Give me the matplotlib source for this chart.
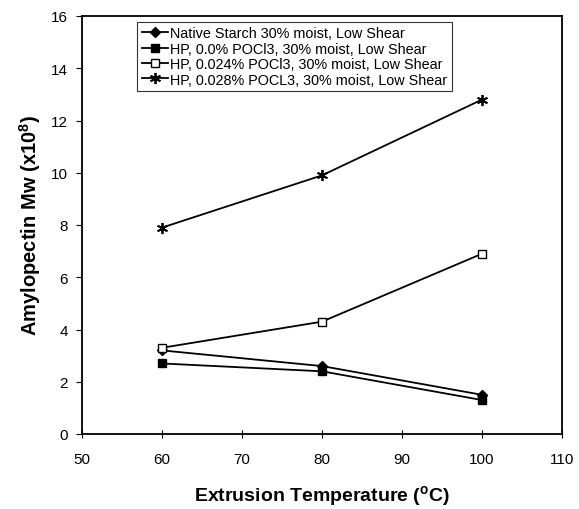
import matplotlib
matplotlib.use("Agg")
import matplotlib.pyplot as plt

plt.rcParams["font.family"] = ["Liberation Sans", "DejaVu Sans"]

temps = [60, 80, 100]
native = [3.2, 2.6, 1.5]
hp_000 = [2.7, 2.4, 1.3]
hp_024 = [3.3, 4.3, 6.9]
hp_028 = [7.9, 9.9, 12.8]

labels = [
    "Native Starch 30% moist, Low Shear",
    "HP, 0.0% POCl3, 30% moist, Low Shear",
    "HP, 0.024% POCl3, 30% moist, Low Shear",
    "HP, 0.028% POCL3, 30% moist, Low Shear",
]

fig = plt.figure(figsize=(5.79, 5.10), dpi=100)
ax = fig.add_axes([82 / 579, 75 / 510, 480 / 579, 418 / 510])

ax.plot(temps, native, color="black", lw=1.3, marker="D", ms=5, label=labels[0])
ax.plot(temps, hp_000, color="black", lw=1.3, marker="s", ms=6, label=labels[1])
ax.plot(temps, hp_024, color="black", lw=1.3, marker="s", ms=6,
        markerfacecolor="white", label=labels[2])
ax.plot(temps, hp_028, color="black", lw=1.3, marker=(6, 2, 0), ms=8,
        mew=1.3, label=labels[3])

ax.set_xlim(50, 110)
ax.set_ylim(0, 16)
ax.set_xticks(range(50, 111, 10))
ax.set_yticks(range(0, 17, 2))
ax.tick_params(axis="x", direction="inout", length=6, labelsize=11, pad=10)
ax.tick_params(axis="y", direction="out", length=4, labelsize=11, pad=6)
for s in ax.spines.values():
    s.set_linewidth(1.3)

ax.set_xlabel("Extrusion Temperature ($\\mathregular{^o}$C)", fontsize=14,
              fontweight="bold", labelpad=12)
ax.set_ylabel("Amylopectin Mw (x10$\\mathregular{^8}$)", fontsize=14.5,
              fontweight="bold", labelpad=6)

leg = ax.legend(loc="upper left", bbox_to_anchor=(0.115, 0.986), fontsize=10.4,
                frameon=True, fancybox=False, edgecolor="black",
                handlelength=1.8, handletextpad=0.2, borderpad=0.3,
                labelspacing=0.1, borderaxespad=0)
leg.get_frame().set_linewidth(0.8)

fig.savefig("out.png", dpi=100)
